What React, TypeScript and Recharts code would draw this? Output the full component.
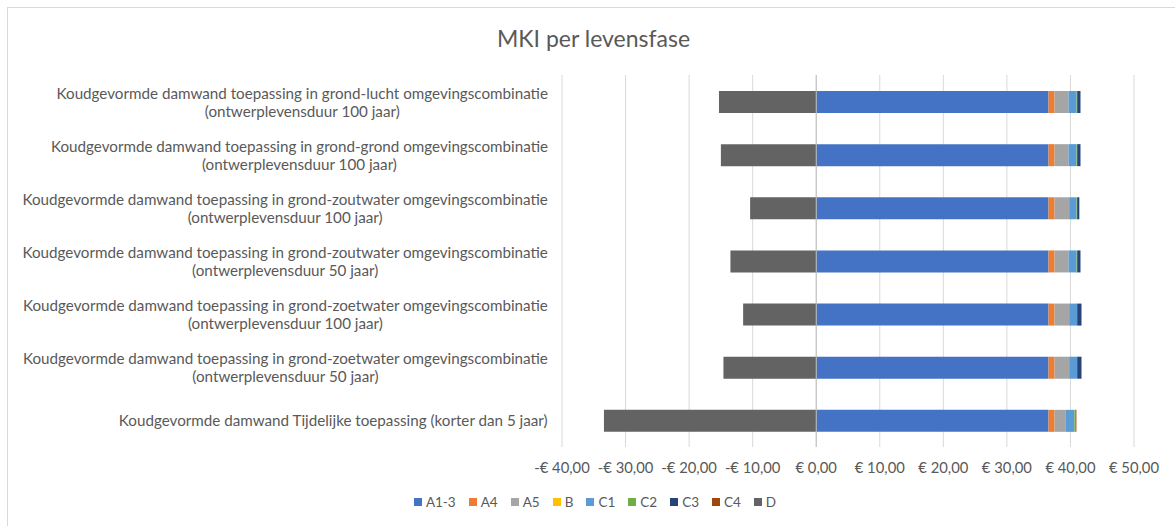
import React from "react";
import {
  BarChart,
  Bar,
  XAxis,
  YAxis,
  CartesianGrid,
  ReferenceLine,
} from "recharts";

const FONT = "Lato, 'Noto Sans', sans-serif";
const TEXT = "#595959";

const categories = [
  "Koudgevormde damwand toepassing in grond-lucht omgevingscombinatie\n(ontwerplevensduur 100 jaar)",
  "Koudgevormde damwand toepassing in grond-grond omgevingscombinatie\n(ontwerplevensduur 100 jaar)",
  "Koudgevormde damwand toepassing in grond-zoutwater omgevingscombinatie\n(ontwerplevensduur 100 jaar)",
  "Koudgevormde damwand toepassing in grond-zoutwater omgevingscombinatie\n(ontwerplevensduur 50 jaar)",
  "Koudgevormde damwand toepassing in grond-zoetwater omgevingscombinatie\n(ontwerplevensduur 100 jaar)",
  "Koudgevormde damwand toepassing in grond-zoetwater omgevingscombinatie\n(ontwerplevensduur 50 jaar)",
  "Koudgevormde damwand Tijdelijke toepassing (korter dan 5 jaar)",
];

const phases = ["A1-3", "A4", "A5", "B", "C1", "C2", "C3", "C4", "D"];
const phaseColors = [
  "#4472C4",
  "#ED7D31",
  "#A5A5A5",
  "#FFC000",
  "#5B9BD5",
  "#70AD47",
  "#264478",
  "#9E480E",
  "#636363",
];

const a13 = [36.55, 36.55, 36.55, 36.55, 36.55, 36.55, 36.55];
const a4 = [0.95, 0.95, 0.95, 0.95, 0.95, 0.95, 0.95];
const a5 = [2.2, 2.2, 2.3, 2.2, 2.3, 2.3, 1.7];
const b = [0, 0, 0, 0, 0, 0, 0];
const c1 = [1.26, 1.26, 1.15, 1.26, 1.26, 1.26, 1.42];
const c2 = [0.1, 0.1, 0.1, 0.1, 0, 0, 0.15];
const c3 = [0.52, 0.52, 0.35, 0.52, 0.68, 0.68, 0.02];
const c4 = [0, 0, 0, 0, 0, 0, 0.15];
const d = [-15.3, -15.0, -10.4, -13.5, -11.5, -14.6, -33.4];

const xTicks = [-40, -30, -20, -10, 0, 10, 20, 30, 40, 50];

const series = [a13, a4, a5, b, c1, c2, c3, c4, d];

const data = categories.map((name, i) => {
  const row: { [key: string]: string | number } = { name };
  phases.forEach((p, k) => {
    row[p] = series[k][i];
  });
  return row;
});

const euro = (v: number) => {
  const s = "€ " + Math.abs(v).toFixed(2).replace(".", ",");
  return v < 0 ? "-" + s : s;
};

let ctx: CanvasRenderingContext2D | null = null;
const measure = (text: string, font: string) => {
  if (!ctx) ctx = document.createElement("canvas").getContext("2d");
  if (!ctx) return text.length * 7;
  ctx.font = font;
  return ctx.measureText(text).width;
};

const CategoryTick = (props: any) => {
  const { x, y, payload } = props;
  const lines: string[] = String(payload.value).split("\n");
  const fontSize = 15.2;
  const lh = 18;
  const w = Math.max(...lines.map((l) => measure(l, `${fontSize}px ${FONT}`)));
  const cx = x - w / 2;
  const start = y - ((lines.length - 1) * lh) / 2;
  return (
    <g>
      {lines.map((l, i) => (
        <text
          key={i}
          x={cx}
          y={start + i * lh}
          textAnchor="middle"
          dominantBaseline="central"
          fontSize={fontSize}
          fontFamily={FONT}
          fill={TEXT}
        >
          {l}
        </text>
      ))}
    </g>
  );
};

export default function App() {
  return (
    <div
      style={{
        position: "absolute",
        left: 0,
        top: 0,
        width: 1175,
        height: 526,
        overflow: "hidden",
        background: "#fff",
        fontFamily: FONT,
      }}
    >
      <div
        style={{
          position: "absolute",
          left: 7,
          top: 7,
          width: 1200,
          height: 560,
          borderTop: "1px solid #d9d9d9",
          borderLeft: "1px solid #d9d9d9",
        }}
      />
      <div
        style={{
          position: "absolute",
          left: 0,
          width: 1187,
          top: 24,
          textAlign: "center",
          fontSize: 23,
          color: TEXT,
        }}
      >
        MKI per levensfase
      </div>
      <div style={{ position: "absolute", left: 0, top: 0 }}>
        <BarChart
          width={1175}
          height={526}
          data={data}
          layout="vertical"
          stackOffset="sign"
          barSize={22}
          margin={{ top: 75, right: 41, left: 8, bottom: 49 }}
        >
          <CartesianGrid horizontal={false} stroke="#d9d9d9" />
          <XAxis
            type="number"
            domain={[-40, 50]}
            ticks={xTicks}
            tickFormatter={euro}
            axisLine={false}
            tickLine={false}
            tickMargin={9}
            height={30}
            tick={{ fontSize: 14.8, fill: TEXT, fontFamily: FONT }}
            interval={0}
          />
          <YAxis
            type="category"
            dataKey="name"
            width={554}
            axisLine={false}
            tickLine={false}
            tickSize={0}
            tickMargin={14}
            interval={0}
            tick={<CategoryTick />}
          />
          <ReferenceLine x={0} stroke="#bfbfbf" />
          {phases.map((p, k) => (
            <Bar
              key={p}
              dataKey={p}
              stackId="a"
              fill={phaseColors[k]}
              isAnimationActive={false}
            />
          ))}
        </BarChart>
      </div>
      <div
        style={{
          position: "absolute",
          left: 0,
          width: 1190,
          top: 494,
          display: "flex",
          justifyContent: "center",
          gap: 13,
          fontSize: 13.5,
          color: TEXT,
        }}
      >
        {phases.map((p, k) => (
          <div key={p} style={{ display: "flex", alignItems: "center", gap: 4 }}>
            <span
              style={{
                display: "inline-block",
                width: 8,
                height: 8,
                background: phaseColors[k],
              }}
            />
            <span>{p}</span>
          </div>
        ))}
      </div>
    </div>
  );
}
